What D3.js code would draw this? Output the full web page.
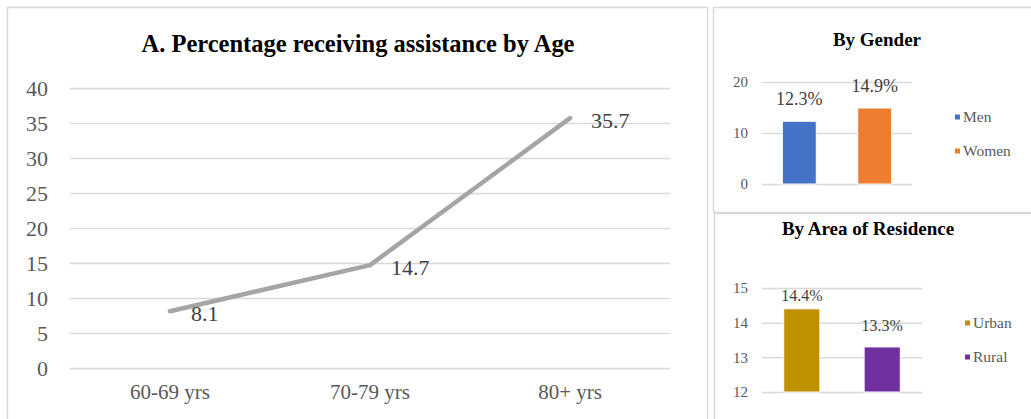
<!DOCTYPE html>
<html>
<head>
<meta charset="utf-8">
<script src="https://cdn.jsdelivr.net/npm/d3@7"></script>
<style>
  html, body { margin: 0; padding: 0; background: #fff; }
  svg { display: block; }
  svg text { font-family: "Liberation Serif", "Times New Roman", serif !important; }
</style>
</head>
<body>
<svg id="chart" width="1031" height="419"></svg>
<script>
// Panel A: share receiving assistance by age group
const ageGroups = ["60-69 yrs", "70-79 yrs", "80+ yrs"];
const ageValues = [8.1, 14.7, 35.7];
const ageTicks = [0, 5, 10, 15, 20, 25, 30, 35, 40];

// By gender
const genderCats = ["Men", "Women"];
const genderValues = [12.3, 14.9];
const genderTicks = [0, 10, 20];
const genderColors = ["#4472C4", "#ED7D31"];

// By area of residence
const areaCats = ["Urban", "Rural"];
const areaValues = [14.4, 13.3];
const areaTicks = [12, 13, 14, 15];
const areaColors = ["#BF9000", "#7030A0"];

const svg = d3.select("#chart");
const gridColor = "#d9d9d9";
const textColor = "#595959";
const labelColor = "#404040";

// Panel frames
svg.append("rect").attr("x", 7.5).attr("y", 7.5).attr("width", 700).attr("height", 430)
  .attr("fill", "none").attr("stroke", gridColor).attr("stroke-width", 1.5);
svg.append("rect").attr("x", 713.5).attr("y", 7.5).attr("width", 330).attr("height", 205)
  .attr("fill", "none").attr("stroke", gridColor).attr("stroke-width", 1.5);
svg.append("rect").attr("x", 714.5).attr("y", 213.5).attr("width", 330).attr("height", 230)
  .attr("fill", "none").attr("stroke", gridColor).attr("stroke-width", 1.5);

// ---------- Line chart by age ----------
const ax = d3.scaleBand().domain(ageGroups).range([70, 670]);
const ay = d3.scaleLinear().domain([0, 40]).range([368, 88]);

const gA = svg.append("g");
gA.append("text").attr("x", 358).attr("y", 52).attr("text-anchor", "middle")
  .attr("font-size", 26).attr("font-weight", "bold").attr("fill", "#000")
  .attr("textLength", 433).attr("lengthAdjust", "spacingAndGlyphs")
  .text("A. Percentage receiving assistance by Age");

const yAxisA = d3.axisLeft(ay).tickValues(ageTicks).tickSize(-600).tickPadding(22);
gA.append("g").attr("transform", "translate(70,0)").call(yAxisA)
  .call(g => g.select(".domain").remove())
  .call(g => g.selectAll(".tick line").attr("stroke", gridColor).attr("stroke-width", 1.5))
  .call(g => g.selectAll(".tick text").attr("fill", textColor).attr("font-size", 22));

const xAxisA = d3.axisBottom(ax).tickSize(0).tickPadding(16);
gA.append("g").attr("transform", "translate(0,368)").call(xAxisA)
  .call(g => g.select(".domain").remove())
  .call(g => g.selectAll(".tick text").attr("fill", textColor).attr("font-size", 21));

const cx = d => ax(d) + ax.bandwidth() / 2;
const line = d3.line().x((d, i) => cx(ageGroups[i])).y(d => ay(d));
gA.append("path").datum(ageValues).attr("d", line).attr("fill", "none")
  .attr("stroke", "#a5a5a5").attr("stroke-width", 4.5)
  .attr("stroke-linecap", "round").attr("stroke-linejoin", "round");

gA.selectAll(".age-label").data(ageValues).join("text")
  .attr("x", (d, i) => cx(ageGroups[i]) + 21)
  .attr("y", d => ay(d) + 10)
  .attr("font-size", 22).attr("fill", labelColor)
  .text(d => d.toFixed(1));

// ---------- Small bar panels ----------
function barPanel(opts) {
  const g = svg.append("g");
  g.append("text").attr("x", opts.titleX).attr("y", opts.titleY).attr("text-anchor", "middle")
    .attr("font-size", 19).attr("font-weight", "bold").attr("fill", "#000").text(opts.title);

  const x = d3.scaleBand().domain(opts.cats).range([762, opts.gridEnd])
    .paddingInner(0.55).paddingOuter(0.27);
  const y = d3.scaleLinear().domain(opts.domain).range(opts.yRange);

  g.append("g").attr("transform", "translate(762,0)")
    .call(d3.axisLeft(y).tickValues(opts.ticks).tickFormat(d3.format("d"))
      .tickSize(-(opts.gridEnd - 762)).tickPadding(14))
    .call(a => a.select(".domain").remove())
    .call(a => a.selectAll(".tick line").attr("stroke", gridColor).attr("stroke-width", 1.5))
    .call(a => a.selectAll(".tick text").attr("fill", textColor).attr("font-size", 15));

  g.selectAll(".bar").data(opts.values).join("rect")
    .attr("x", (d, i) => x(opts.cats[i]))
    .attr("width", x.bandwidth())
    .attr("y", d => y(d))
    .attr("height", d => y(opts.domain[0]) - y(d))
    .attr("fill", (d, i) => opts.colors[i])
    .attr("stroke", "#fff").attr("stroke-width", 1);

  g.selectAll(".lbl").data(opts.values).join("text")
    .attr("x", (d, i) => x(opts.cats[i]) + x.bandwidth() / 2)
    .attr("y", (d, i) => y(d) - opts.labelGap[i])
    .attr("text-anchor", "middle").attr("font-size", opts.labelSize).attr("fill", labelColor)
    .text(d => d.toFixed(1) + "%");

  const leg = g.selectAll(".leg").data(opts.cats).join("g")
    .attr("transform", (d, i) => `translate(${opts.legendX},${opts.legendY[i]})`);
  leg.append("rect").attr("x", 0).attr("y", -2.5).attr("width", 5).attr("height", 5)
    .attr("fill", (d, i) => opts.colors[i]);
  leg.append("text").attr("x", 8).attr("y", 5).attr("font-size", 15.5).attr("fill", textColor)
    .text(d => d);
}

barPanel({
  title: "By Gender", titleX: 877, titleY: 46,
  cats: genderCats, values: genderValues, colors: genderColors,
  domain: [0, 20], yRange: [184, 82], ticks: genderTicks, gridEnd: 912,
  labelGap: [16, 16], labelSize: 18, legendX: 955, legendY: [117, 151]
});

barPanel({
  title: "By Area of Residence", titleX: 868, titleY: 235,
  cats: areaCats, values: areaValues, colors: areaColors,
  domain: [12, 15], yRange: [392, 288], ticks: areaTicks, gridEnd: 922,
  labelGap: [8, 16], labelSize: 16, legendX: 965, legendY: [323, 357]
});
</script>
</body>
</html>
